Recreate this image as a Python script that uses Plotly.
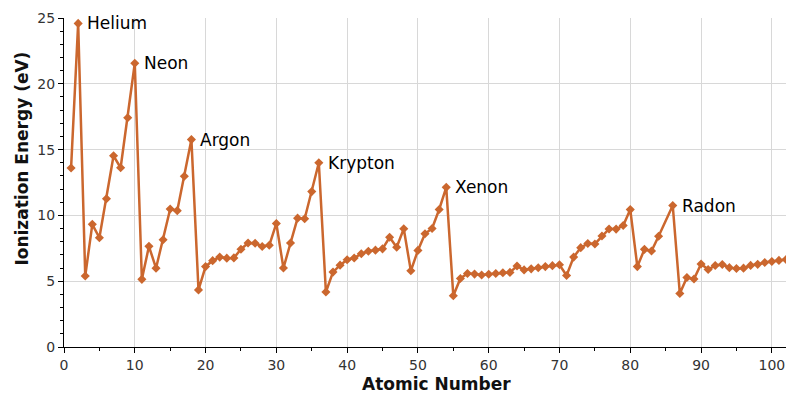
import plotly.graph_objects as go

atomic_number = list(range(1, 85)) + list(range(86, 103))
ionization_ev = [
    13.60, 24.59, 5.39, 9.32, 8.30, 11.26, 14.53, 13.62, 17.42, 21.56,
    5.14, 7.65, 5.99, 8.15, 10.49, 10.36, 12.97, 15.76, 4.34, 6.11,
    6.56, 6.83, 6.75, 6.77, 7.43, 7.90, 7.88, 7.64, 7.73, 9.39,
    6.00, 7.90, 9.79, 9.75, 11.81, 14.00, 4.18, 5.69, 6.22, 6.63,
    6.76, 7.09, 7.28, 7.36, 7.46, 8.34, 7.58, 8.99, 5.79, 7.34,
    8.61, 9.01, 10.45, 12.13, 3.89, 5.21, 5.58, 5.54, 5.47, 5.53,
    5.58, 5.64, 5.67, 6.15, 5.86, 5.94, 6.02, 6.11, 6.18, 6.25,
    5.43, 6.83, 7.55, 7.86, 7.83, 8.44, 8.97, 8.96, 9.23, 10.44,
    6.11, 7.42, 7.29, 8.41,
    10.75, 4.07, 5.28, 5.17, 6.31, 5.89, 6.19, 6.27, 6.03, 5.97,
    5.99, 6.20, 6.28, 6.42, 6.50, 6.58, 6.65,
]

noble_names = ["Helium", "Neon", "Argon", "Krypton", "Xenon", "Radon"]
noble_z = [2, 10, 18, 36, 54, 86]

x_title = "Atomic Number"
y_title = "Ionization Energy (eV)"

color = "#cb672e"

fig = go.Figure()
fig.add_trace(go.Scatter(
    x=atomic_number, y=ionization_ev, mode="lines+markers",
    line=dict(color=color, width=2.5),
    marker=dict(symbol="diamond", size=7, color=color),
    showlegend=False, hoverinfo="x+y",
))

for name, z in zip(noble_names, noble_z):
    fig.add_annotation(
        x=z, y=ionization_ev[atomic_number.index(z)], text=name,
        showarrow=False, xanchor="left", yanchor="middle", xshift=7,
        font=dict(family="DejaVu Sans", size=17, color="black"),
    )

fig.add_annotation(
    xref="paper", yref="paper", x=0.516, y=-0.1125,
    text="<b>" + x_title + "</b>", showarrow=False,
    xanchor="center", yanchor="middle",
    font=dict(family="DejaVu Sans", size=17, color="#111111"),
)
fig.add_annotation(
    xref="paper", yref="paper", x=-0.058, y=0.573,
    text="<b>" + y_title + "</b>", showarrow=False, textangle=-90,
    xanchor="center", yanchor="middle",
    font=dict(family="DejaVu Sans", size=17, color="#111111"),
)

axis_common = dict(
    showline=True, linecolor="black", linewidth=1,
    gridcolor="#d8d8d8", gridwidth=1, zeroline=False,
    ticks="outside", ticklen=5, tickcolor="black",
    tickfont=dict(family="DejaVu Sans", size=14, color="#333333"),
    automargin=False,
)

fig.update_xaxes(
    range=[0, 102], dtick=10, tick0=0,
    minor=dict(dtick=5, ticks="outside", ticklen=3, tickcolor="black", showgrid=False),
    **axis_common,
)
fig.update_yaxes(
    range=[0, 25], dtick=5, tick0=0,
    minor=dict(dtick=1, ticks="outside", ticklen=3, tickcolor="black", showgrid=False),
    **axis_common,
)

fig.update_layout(
    width=806, height=405,
    margin=dict(l=64, r=20, t=18, b=58),
    paper_bgcolor="white", plot_bgcolor="white",
    font=dict(family="DejaVu Sans"),
)

fig.write_html("out.html", config={"displayModeBar": False},
               post_script="document.body.style.margin='0px';")
